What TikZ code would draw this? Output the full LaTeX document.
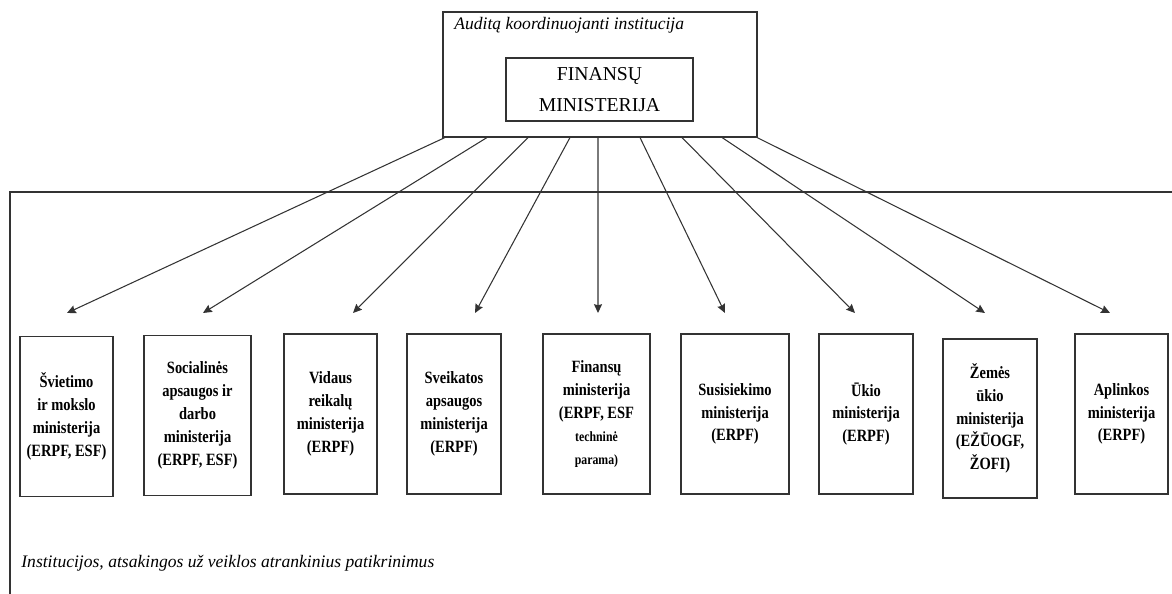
\documentclass[tikz,border=0pt]{standalone}
\usepackage{tikz}
\usepackage{xcolor}
\usepackage{fontspec}
\usetikzlibrary{arrows.meta}
\setmainfont{Liberation Serif}
\newfontfamily\boxfont{Liberation Serif}[FakeStretch=0.84]
\tikzstyle{ministry}=[draw, align=center, minimum height=3.2cm, inner sep=0pt, font=\boxfont\bfseries\fontsize{9.8}{13}\selectfont]

\begin{document}
\begin{tikzpicture}[line width=0.6pt, draw=black!80, >={Stealth[length=5pt,width=4.6pt,inset=0.6pt]}]
      \useasboundingbox (0,0) rectangle (23.44,11.86);
      \draw (23.6,8.02) -- (0.2,8.02) -- (0.2,-0.2);
      \node[anchor=west, font=\itshape\fontsize{10}{12}\selectfont] (grplbl) at (0.3,0.6) {Institucijos, atsakingos už veiklos atrankinius patikrinimus};
      \node[draw, minimum width=6.28cm, minimum height=2.5cm] (top) at (12,10.37) {};
      \node[anchor=west, font=\itshape\fontsize{10}{12}\selectfont] (toplbl) at (8.96,11.36) {Auditą koordinuojanti institucija};
      \node[draw, minimum width=3.74cm, minimum height=1.26cm, align=center, font=\fontsize{11.2}{18}\selectfont] (fin) at (11.99,10.07) {FINANSŲ\\MINISTERIJA};
      \node[ministry, minimum width=1.86cm] (b1) at (1.33,3.53) {Švietimo\\ir mokslo\\ministerija\\(ERPF, ESF)};
      \node[ministry, minimum width=2.14cm] (b2) at (3.95,3.55) {Socialinės\\apsaugos ir\\darbo\\ministerija\\(ERPF, ESF)};
      \node[ministry, minimum width=1.86cm] (b3) at (6.61,3.58) {Vidaus\\reikalų\\ministerija\\(ERPF)};
      \node[ministry, minimum width=1.88cm] (b4) at (9.08,3.58) {Sveikatos\\apsaugos\\ministerija\\(ERPF)};
      \node[ministry, minimum width=2.14cm] (b5) at (11.93,3.58) {Finansų\\ministerija\\(ERPF, ESF\\{\fontsize{8}{11}\selectfont techninė}\\{\fontsize{8}{11}\selectfont parama)}};
      \node[ministry, minimum width=2.16cm] (b6) at (14.70,3.58) {Susisiekimo\\ministerija\\(ERPF)};
      \node[ministry, minimum width=1.88cm] (b7) at (17.32,3.58) {Ūkio\\ministerija\\(ERPF)};
      \node[ministry, minimum width=1.88cm, minimum height=3.18cm] (b8) at (19.8,3.49) {Žemės\\ūkio\\ministerija\\(EŽŪOGF,\\ŽOFI)};
      \node[ministry, minimum width=1.86cm] (b9) at (22.43,3.58) {Aplinkos\\ministerija\\(ERPF)};
      \coordinate (e1) at (1.34,5.6);
      \coordinate (e2) at (4.06,5.6);
      \coordinate (e3) at (7.06,5.6);
      \coordinate (e4) at (9.5,5.6);
      \coordinate (e5) at (11.96,5.6);
      \coordinate (e6) at (14.5,5.6);
      \coordinate (e7) at (17.1,5.6);
      \coordinate (e8) at (19.7,5.6);
      \coordinate (e9) at (22.2,5.6);
      \draw [->] ([xshift=-3.1cm]top.south) -- (e1);
      \draw [->] ([xshift=-2.26cm]top.south) -- (e2);
      \draw [->] ([xshift=-1.44cm]top.south) -- (e3);
      \draw [->] ([xshift=-0.6cm]top.south) -- (e4);
      \draw [->] ([xshift=-0.04cm]top.south) -- (e5);
      \draw [->] ([xshift=0.8cm]top.south) -- (e6);
      \draw [->] ([xshift=1.64cm]top.south) -- (e7);
      \draw [->] ([xshift=2.44cm]top.south) -- (e8);
      \draw [->] ([xshift=3.14cm]top.south) -- (e9);
    \end{tikzpicture}
\end{document}
